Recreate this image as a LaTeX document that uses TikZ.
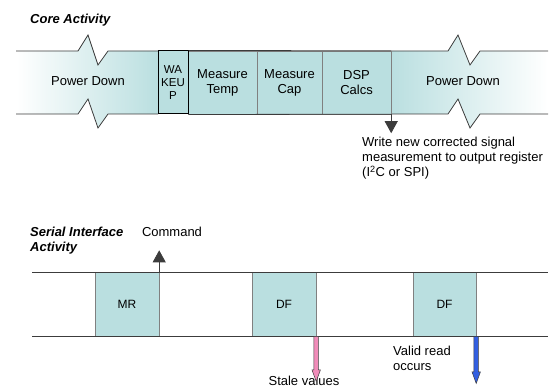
\documentclass[tikz,border=0pt]{standalone}
\usepackage{fontspec}
\setmainfont{Liberation Sans}
\usetikzlibrary{arrows.meta,shapes.arrows}
\definecolor{boxfill}{RGB}{186,223,224}
\definecolor{edgegray}{RGB}{60,60,60}
\definecolor{stalepink}{RGB}{240,140,185}
\definecolor{validblue}{RGB}{50,95,225}
\begin{document}
\begin{tikzpicture}[x=1pt,y=-1pt,
  lbl/.style={font=\fontsize{13}{15}\selectfont,inner sep=0pt},
  ttl/.style={font=\fontsize{13}{15}\selectfont\bfseries\itshape,inner sep=0pt,align=left},
  corebox/.style={draw=gray,fill=boxfill,minimum height=63pt,inner sep=0pt,align=center,font=\fontsize{13}{15}\selectfont},
  sibox/.style={draw=gray,fill=boxfill,minimum width=64pt,minimum height=63.5pt,inner sep=0pt,font=\fontsize{12}{14}\selectfont},
  edge/.style={draw=edgegray,line width=0.8pt},
  blackarrow/.style={-{Triangle[width=13pt,length=12pt]}},
  flowarrow/.style={single arrow,draw=edgegray,line width=0.5pt,shape border rotate=270,inner sep=2pt,single arrow head extend=2pt,single arrow tip angle=40,anchor=tail}]
\useasboundingbox (0,0) rectangle (553,390);
\node[ttl,anchor=west] (coretitle) at (30,20) {Core Activity};
\shade[left color=white,right color=boxfill] (16,51) -- (78,51) -- (88,35) -- (98,65) -- (108,51) -- (158,51) -- (158,114) -- (108,114) -- (98,128) -- (88,99) -- (78,114) -- (16,114) -- cycle;
\shade[left color=boxfill,right color=white] (391,51) -- (448,51) -- (458,35) -- (470,65) -- (480,51) -- (548,51) -- (548,114) -- (480,114) -- (470,128) -- (458,99) -- (448,114) -- (391,114) -- cycle;
\draw[edge] (16,51) -- (78,51) -- (88,35) -- (98,65) -- (108,51) -- (158,51);
\draw[edge] (16,114) -- (78,114) -- (88,99) -- (98,128) -- (108,114) -- (158,114);
\draw[edge] (391,51) -- (448,51) -- (458,35) -- (470,65) -- (480,51) -- (548,51);
\draw[edge] (391,114) -- (448,114) -- (458,99) -- (470,128) -- (480,114) -- (548,114);
\node[lbl] (pdleft) at (88,81) {Power Down};
\node[lbl] (pdright) at (463,81) {Power Down};
\node[corebox,minimum width=69pt] (temp) at (222.5,82.5) {Measure\\Temp};
\node[corebox,minimum width=65pt] (cap) at (289.5,82.5) {Measure\\Cap};
\node[corebox,minimum width=69pt] (dsp) at (356.5,82.5) {DSP\\Calcs};
\node[corebox,minimum width=30pt,draw=black,line width=1pt,font=\fontsize{11.5}{13}\selectfont] (wakeup) at (173,82.5) {WA\\KEU\\P};
\draw[edge] (wakeup.north east) -- (dsp.north east);
\draw[edge] (wakeup.south east) -- (dsp.south east);
\coordinate (wrtip) at ([yshift=-19pt]dsp.south east);
\draw[edge,blackarrow] (dsp.south east) -- (wrtip);
\node[lbl,anchor=north west,align=left] (wrnote) at (362,137) {Write new corrected signal\\measurement to output register\\(I\textsuperscript{2}C or SPI)};
\node[ttl,anchor=west] (sititle) at (30,240.5) {Serial Interface\\Activity};
\node[lbl] (cmd) at (172,232) {Command};
\node[sibox] (mr) at (127,304.25) {MR};
\node[sibox] (dfa) at (284,304.25) {DF};
\node[sibox,minimum width=63pt] (dfb) at (444.5,304.25) {DF};
\draw[edge] (32,272.5) -- (548,272.5);
\draw[edge] (32,336) -- (548,336);
\coordinate (cmdtip) at ([yshift=22pt]mr.north east);
\draw[edge,blackarrow] (mr.north east) -- (cmdtip);
\node[lbl] (stalenote) at (304,381) {Stale values};
\node[lbl,anchor=west,align=left] (validnote) at (393,358) {Valid read\\occurs};
\node[flowarrow,fill=stalepink,minimum height=45pt] (stale) at (dfa.south east) {};
\node[flowarrow,fill=validblue,minimum height=47pt] (valid) at (dfb.south east) {};
\end{tikzpicture}
\end{document}
